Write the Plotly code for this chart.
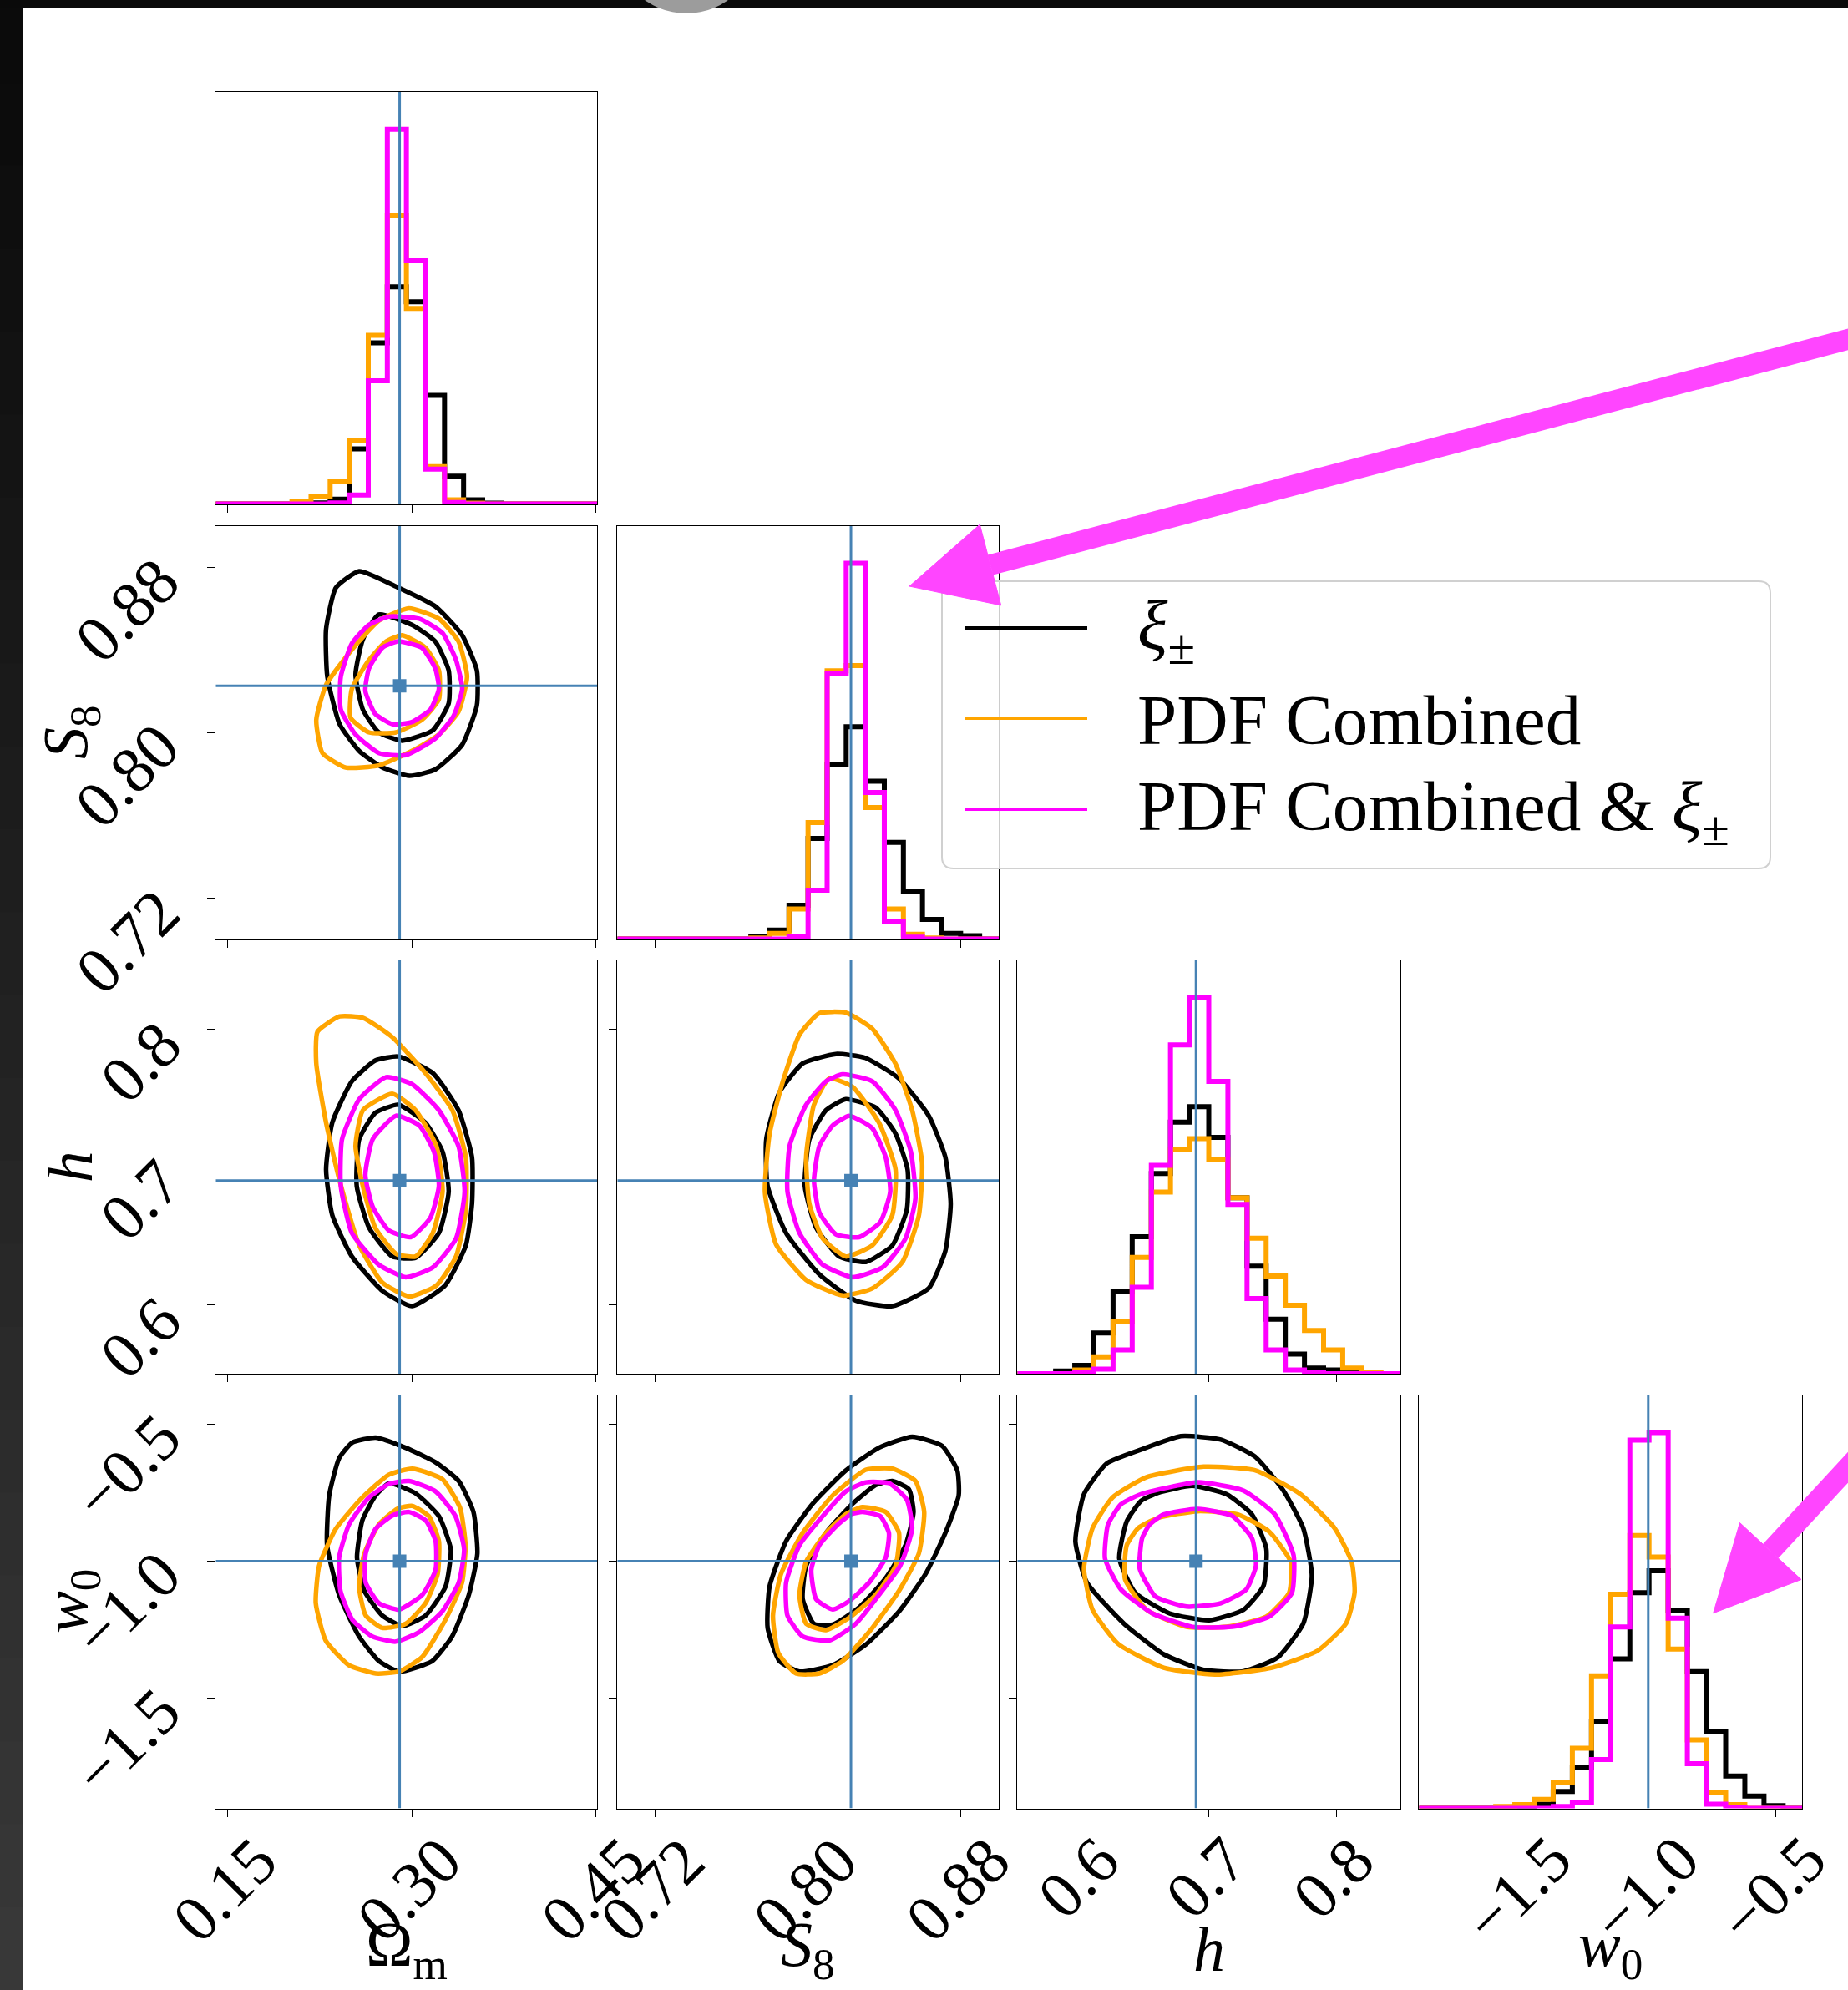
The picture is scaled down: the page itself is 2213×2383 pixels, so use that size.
import numpy as np
import plotly.graph_objects as go

W, H = 2213, 2383
FONT = "Liberation Serif"

# ---------------------------------------------------------------- data
param_ranges = [[0.140, 0.451], [0.700, 0.900], [0.550, 0.850], [-1.900, -0.395]]
truths = [0.290, 0.8225, 0.690, -1.000]
n_bins = 20
tick_vals = [[0.15, 0.30, 0.45], [0.72, 0.80, 0.88], [0.6, 0.7, 0.8], [-1.5, -1.0, -0.5]]
tick_text = [["0.15", "0.30", "0.45"], ["0.72", "0.80", "0.88"],
             ["0.6", "0.7", "0.8"], ["\u22121.5", "\u22121.0", "\u22120.5"]]
axis_titles = ["\u03a9<sub>m</sub>", "<i>S</i><sub>8</sub>", "<i>h</i>", "<i>w</i><sub>0</sub>"]

series_keys = ["xi", "pdf", "both"]
series_names = ["<i>\u03be</i><sub>\u00b1</sub>", "PDF Combined",
                "PDF Combined &amp; <i>\u03be</i><sub>\u00b1</sub>"]
series_colors = ["#000000", "#ffa500", "#ff00ff"]
truth_color = "#4682b4"

# 1D histogram heights (20 bins over each parameter range)
hist_Om_xi = [0, 0, 0, 0, 0, 0.3, 1.3, 14.7, 43, 58, 54, 29, 7.4, 1.1, 0.2, 0, 0, 0, 0, 0]
hist_Om_pdf = [0, 0, 0, 0, 0.7, 2.0, 5.9, 17, 45, 77, 52, 10, 1.1, 0.2, 0, 0, 0, 0, 0, 0]
hist_Om_both = [0, 0, 0, 0, 0, 0, 0.3, 2.4, 32.9, 100, 65, 9.3, 0.4, 0, 0, 0, 0, 0, 0, 0]

hist_S8_xi = [0, 0, 0, 0, 0, 0, 0, 0.6, 2.4, 9, 26.8, 46.5, 56.5, 42, 25.7, 12.6, 5.2, 1.5, 0.9, 0]
hist_S8_pdf = [0, 0, 0, 0, 0, 0, 0, 0.3, 1.5, 8, 31, 71.4, 72.8, 35, 8, 1.3, 0.3, 0, 0, 0]
hist_S8_both = [0, 0, 0, 0, 0, 0, 0, 0, 0, 0.8, 13, 70.6, 100, 39, 4.8, 0.5, 0, 0, 0, 0]

hist_h_xi = [0, 0, 0.7, 2.2, 10.8, 21.9, 36.4, 53.2, 66.9, 71, 62.8, 46.8, 28.6, 14.5, 5.2, 1.5, 1.0, 0.3, 0, 0]
hist_h_pdf = [0, 0, 0, 1.0, 4.5, 13.8, 30.9, 48.3, 59.5, 62.5, 57, 46.8, 36, 26, 18.2, 11.5, 6.3, 1.5, 0.3, 0]
hist_h_both = [0, 0, 0, 0.4, 1.2, 6.3, 23, 55.4, 87.4, 100, 77.7, 45, 20, 6.3, 1.0, 0.3, 0, 0, 0, 0]

hist_w0_xi = [0, 0, 0, 0, 0, 0, 1.1, 4.5, 11, 23, 39.8, 57.4, 63.2, 52.8, 36.4, 20.4, 8.6, 3.3, 0.7, 0]
hist_w0_pdf = [0, 0, 0, 0, 0.5, 1.0, 2.4, 7, 16, 35.3, 57, 72.6, 66.9, 42.4, 18.2, 4.1, 1.0, 0, 0, 0]
hist_w0_both = [0, 0, 0, 0, 0, 0, 0, 0.5, 1.5, 13, 48.3, 98, 100, 50.6, 11.9, 1.1, 0.3, 0, 0, 0]

hists = [[hist_Om_xi, hist_Om_pdf, hist_Om_both],
         [hist_S8_xi, hist_S8_pdf, hist_S8_both],
         [hist_h_xi, hist_h_pdf, hist_h_both],
         [hist_w0_xi, hist_w0_pdf, hist_w0_both]]

# 2D contours (outer, inner), (x, y) in data units
ctr_S8_Om = {
    "xi": [[(0.257, 0.878), (0.289, 0.870), (0.319, 0.861), (0.341, 0.847), (0.353, 0.830), (0.353, 0.813),
            (0.341, 0.794), (0.319, 0.782), (0.298, 0.779), (0.276, 0.783), (0.257, 0.791), (0.241, 0.804),
            (0.231, 0.827), (0.230, 0.850), (0.238, 0.870)],
           [(0.273, 0.857), (0.300, 0.852), (0.319, 0.844), (0.330, 0.830), (0.330, 0.814), (0.317, 0.801),
            (0.292, 0.796), (0.273, 0.800), (0.260, 0.811), (0.254, 0.828), (0.260, 0.845)]],
    "pdf": [[(0.2975, 0.860), (0.322, 0.855), (0.338, 0.844), (0.345, 0.827), (0.338, 0.810), (0.322, 0.799),
             (0.300, 0.791), (0.273, 0.784), (0.246, 0.783), (0.227, 0.790), (0.222, 0.806), (0.230, 0.823),
             (0.251, 0.840), (0.273, 0.854)],
            [(0.292, 0.847), (0.311, 0.841), (0.322, 0.830), (0.322, 0.816), (0.308, 0.806), (0.287, 0.800),
             (0.265, 0.800), (0.250, 0.807), (0.251, 0.821), (0.265, 0.835), (0.279, 0.844)]],
    "both": [[(0.281, 0.856), (0.306, 0.855), (0.325, 0.848), (0.336, 0.835), (0.341, 0.821), (0.334, 0.808),
              (0.319, 0.797), (0.295, 0.789), (0.273, 0.790), (0.254, 0.799), (0.242, 0.811), (0.242, 0.827),
              (0.251, 0.843), (0.265, 0.852)],
             [(0.289, 0.844), (0.308, 0.841), (0.319, 0.831), (0.322, 0.821), (0.315, 0.811), (0.300, 0.805),
              (0.284, 0.804), (0.270, 0.809), (0.262, 0.820), (0.265, 0.831), (0.276, 0.841)]],
}
ctr_h_Om = {
    "xi": [[(0.289, 0.780), (0.317, 0.768), (0.338, 0.741), (0.349, 0.707), (0.349, 0.673), (0.344, 0.643),
            (0.327, 0.614), (0.300, 0.599), (0.276, 0.610), (0.251, 0.635), (0.235, 0.665), (0.230, 0.698),
            (0.235, 0.732), (0.251, 0.762), (0.270, 0.777)],
           [(0.289, 0.745), (0.311, 0.732), (0.325, 0.711), (0.330, 0.682), (0.322, 0.652), (0.303, 0.634),
            (0.284, 0.635), (0.265, 0.656), (0.255, 0.686), (0.257, 0.720), (0.270, 0.739)]],
    "pdf": [[(0.241, 0.809), (0.260, 0.808), (0.284, 0.794), (0.311, 0.768), (0.333, 0.741), (0.344, 0.707),
             (0.344, 0.669), (0.336, 0.635), (0.320, 0.614), (0.298, 0.606), (0.276, 0.616), (0.257, 0.643),
             (0.241, 0.690), (0.230, 0.732), (0.222, 0.775), (0.223, 0.798)],
            [(0.260, 0.741), (0.284, 0.753), (0.303, 0.741), (0.320, 0.715), (0.325, 0.682), (0.317, 0.652),
             (0.303, 0.635), (0.287, 0.637), (0.270, 0.656), (0.260, 0.686), (0.254, 0.715)]],
    "both": [[(0.279, 0.765), (0.300, 0.760), (0.322, 0.741), (0.338, 0.715), (0.343, 0.682), (0.336, 0.648),
              (0.317, 0.627), (0.295, 0.620), (0.273, 0.629), (0.251, 0.652), (0.242, 0.686), (0.243, 0.720),
              (0.257, 0.749)],
             [(0.287, 0.737), (0.306, 0.730), (0.318, 0.711), (0.322, 0.686), (0.315, 0.663), (0.299, 0.649),
              (0.281, 0.654), (0.268, 0.671), (0.262, 0.694), (0.268, 0.720)]],
}
ctr_h_S8 = {
    "xi": [[(0.8146, 0.7818), (0.830, 0.779), (0.8477, 0.764), (0.8633, 0.737), (0.872, 0.707), (0.8748, 0.673),
            (0.872, 0.639), (0.8633, 0.612), (0.8442, 0.599), (0.825, 0.603), (0.8059, 0.622), (0.7885, 0.652),
            (0.7788, 0.686), (0.7781, 0.720), (0.785, 0.754), (0.7972, 0.775)],
           [(0.8198, 0.749), (0.8355, 0.743), (0.8459, 0.724), (0.8522, 0.698), (0.8518, 0.669), (0.8442, 0.643),
            (0.8303, 0.631), (0.8163, 0.635), (0.8042, 0.656), (0.7983, 0.686), (0.8007, 0.720), (0.8094, 0.741)]],
    "pdf": [[(0.8059, 0.8114), (0.8198, 0.8118), (0.8337, 0.800), (0.8459, 0.7746), (0.8546, 0.741),
             (0.8598, 0.7027), (0.8581, 0.6646), (0.8494, 0.6308), (0.8337, 0.6118), (0.8181, 0.6067),
             (0.799, 0.618), (0.7833, 0.6435), (0.7774, 0.6815), (0.7798, 0.7238), (0.7868, 0.762),
             (0.7955, 0.7958)],
            [(0.8111, 0.764), (0.8233, 0.758), (0.8372, 0.732), (0.8459, 0.698), (0.8442, 0.665), (0.8337, 0.643),
             (0.8198, 0.635), (0.8077, 0.648), (0.8007, 0.673), (0.799, 0.707), (0.8031, 0.745)]],
    "both": [[(0.8181, 0.767), (0.8337, 0.762), (0.8459, 0.741), (0.8539, 0.711), (0.8563, 0.677), (0.8511, 0.648),
              (0.839, 0.627), (0.8233, 0.620), (0.8077, 0.629), (0.7955, 0.652), (0.7892, 0.682), (0.7903, 0.715),
              (0.799, 0.745), (0.8094, 0.762)],
             [(0.8216, 0.737), (0.8337, 0.728), (0.8407, 0.707), (0.8431, 0.682), (0.8379, 0.660), (0.8268, 0.649),
              (0.8146, 0.651), (0.8059, 0.667), (0.8031, 0.690), (0.8059, 0.715), (0.8129, 0.730)]],
}
ctr_w0_Om = {
    "xi": [[(0.2704, -0.550), (0.2948, -0.587), (0.3193, -0.640), (0.3382, -0.708), (0.3502, -0.821),
            (0.3534, -0.972), (0.3464, -1.123), (0.3328, -1.274), (0.3165, -1.364), (0.2894, -1.402),
            (0.2731, -1.364), (0.2569, -1.274), (0.2406, -1.123), (0.2308, -0.942), (0.2325, -0.761),
            (0.2406, -0.625), (0.2514, -0.568)],
           [(0.2813, -0.716), (0.303, -0.753), (0.322, -0.836), (0.3317, -0.957), (0.3274, -1.093),
            (0.3111, -1.198), (0.2921, -1.236), (0.2759, -1.198), (0.2612, -1.108), (0.2552, -0.987),
            (0.2596, -0.851), (0.2704, -0.761)]],
    "pdf": [[(0.3003, -0.663), (0.3247, -0.701), (0.3393, -0.806), (0.3437, -0.942), (0.3409, -1.078),
             (0.3274, -1.213), (0.3084, -1.349), (0.2894, -1.402), (0.2704, -1.409), (0.2487, -1.379),
             (0.2297, -1.289), (0.2216, -1.153), (0.2243, -1.017), (0.2379, -0.882), (0.2596, -0.768),
             (0.2813, -0.685)],
            [(0.3003, -0.799), (0.3138, -0.836), (0.322, -0.927), (0.321, -1.047), (0.3111, -1.153),
             (0.2948, -1.228), (0.2759, -1.243), (0.2623, -1.198), (0.2569, -1.093), (0.2612, -0.972),
             (0.2731, -0.866), (0.2883, -0.809)]],
    "both": [[(0.2976, -0.708), (0.3193, -0.746), (0.3355, -0.836), (0.3426, -0.957), (0.3382, -1.078),
              (0.3247, -1.183), (0.3057, -1.259), (0.2867, -1.293), (0.2677, -1.274), (0.2514, -1.213),
              (0.2417, -1.108), (0.2406, -0.987), (0.2487, -0.866), (0.265, -0.768), (0.2813, -0.719)],
             [(0.2976, -0.821), (0.3111, -0.851), (0.3193, -0.927), (0.3193, -1.032), (0.3084, -1.123),
              (0.2894, -1.176), (0.2731, -1.153), (0.2623, -1.078), (0.2623, -0.972), (0.2704, -0.882),
              (0.284, -0.834)]],
}
ctr_w0_S8 = {
    "xi": [[(0.8546, -0.547), (0.8703, -0.580), (0.8783, -0.670), (0.879, -0.761), (0.872, -0.897),
            (0.8616, -1.047), (0.8477, -1.183), (0.8303, -1.304), (0.8129, -1.379), (0.7955, -1.402),
            (0.785, -1.364), (0.7788, -1.243), (0.7798, -1.093), (0.7885, -0.927), (0.8024, -0.791),
            (0.8198, -0.670), (0.8372, -0.587)],
           [(0.8442, -0.708), (0.8529, -0.738), (0.8553, -0.821), (0.8511, -0.942), (0.8407, -1.062),
            (0.8268, -1.168), (0.8129, -1.231), (0.8031, -1.228), (0.7972, -1.138), (0.799, -1.017),
            (0.8094, -0.897), (0.8233, -0.791), (0.8355, -0.723)]],
    "pdf": [[(0.8303, -0.667), (0.8442, -0.663), (0.8563, -0.708), (0.8609, -0.821), (0.8581, -0.972),
             (0.8477, -1.108), (0.8337, -1.243), (0.8181, -1.364), (0.8059, -1.409), (0.7937, -1.409),
             (0.7844, -1.334), (0.7816, -1.198), (0.7858, -1.047), (0.7972, -0.897), (0.8129, -0.761)],
            [(0.8285, -0.803), (0.8407, -0.821), (0.8477, -0.897), (0.8459, -1.017), (0.8355, -1.123),
             (0.8216, -1.206), (0.8094, -1.251), (0.799, -1.228), (0.7955, -1.123), (0.799, -1.002),
             (0.8094, -0.897), (0.8198, -0.829)]],
    "both": [[(0.8303, -0.713), (0.8424, -0.716), (0.8518, -0.776), (0.8546, -0.882), (0.8483, -1.017),
              (0.8372, -1.123), (0.825, -1.228), (0.8111, -1.289), (0.7972, -1.274), (0.7892, -1.198),
              (0.7885, -1.078), (0.7955, -0.942), (0.8077, -0.836), (0.8198, -0.746)],
             [(0.8285, -0.821), (0.8379, -0.836), (0.8424, -0.897), (0.8407, -0.987), (0.832, -1.078),
              (0.8216, -1.145), (0.8129, -1.176), (0.8042, -1.138), (0.8017, -1.032), (0.8059, -0.942),
              (0.8157, -0.866), (0.8226, -0.829)]],
}
ctr_w0_h = {
    "xi": [[(0.6469, -0.594), (0.6781, -0.545), (0.7094, -0.557), (0.7362, -0.619), (0.7585, -0.743),
            (0.7741, -0.880), (0.7808, -1.053), (0.7741, -1.227), (0.754, -1.351), (0.7272, -1.401),
            (0.696, -1.396), (0.6647, -1.339), (0.6335, -1.227), (0.6045, -1.078), (0.5955, -0.929),
            (0.6022, -0.756), (0.6201, -0.644)],
           [(0.6603, -0.751), (0.687, -0.726), (0.7138, -0.756), (0.7339, -0.830), (0.7451, -0.954),
            (0.7429, -1.090), (0.7272, -1.177), (0.7004, -1.215), (0.6692, -1.190), (0.6424, -1.115),
            (0.6299, -0.991), (0.6357, -0.855), (0.6469, -0.781)]],
    "pdf": [[(0.6513, -0.694), (0.696, -0.656), (0.7362, -0.669), (0.7719, -0.756), (0.7987, -0.880),
             (0.8121, -1.004), (0.8143, -1.115), (0.8076, -1.227), (0.7853, -1.326), (0.7495, -1.388),
             (0.7049, -1.413), (0.6647, -1.388), (0.629, -1.301), (0.6089, -1.177), (0.6022, -1.028),
             (0.6089, -0.880), (0.6246, -0.768)],
            [(0.6603, -0.842), (0.6915, -0.818), (0.7228, -0.830), (0.7473, -0.892), (0.7643, -1.004),
             (0.763, -1.115), (0.7451, -1.202), (0.7138, -1.239), (0.6826, -1.239), (0.6513, -1.177),
             (0.6344, -1.066), (0.6357, -0.942), (0.6446, -0.880)]],
    "both": [[(0.6469, -0.756), (0.6915, -0.713), (0.7272, -0.743), (0.7518, -0.830), (0.7665, -0.979),
              (0.7652, -1.115), (0.7473, -1.202), (0.7183, -1.239), (0.6871, -1.239), (0.6558, -1.190),
              (0.6312, -1.103), (0.6187, -0.991), (0.621, -0.867), (0.6312, -0.793)],
             [(0.6647, -0.830), (0.6915, -0.810), (0.7183, -0.835), (0.7339, -0.917), (0.737, -1.016),
              (0.7294, -1.103), (0.7094, -1.153), (0.6826, -1.165), (0.6581, -1.128), (0.6459, -1.028),
              (0.6477, -0.917), (0.6536, -0.867)]],
}
contours = {(1, 0): ctr_S8_Om, (2, 0): ctr_h_Om, (2, 1): ctr_h_S8,
            (3, 0): ctr_w0_Om, (3, 1): ctr_w0_S8, (3, 2): ctr_w0_h}

# ---------------------------------------------------------------- layout geometry (pixels)
col_px = [(258.3, 715.0), (739.3, 1196.0), (1218.3, 1676.7), (1699.3, 2158.3)]
row_px = [(110.0, 603.5), (629.5, 1124.5), (1149.5, 1645.0), (1670.5, 2165.5)]
HIST_TOP = 110.0
HIST_LW = 6
CTR_LW = 5.5


def px(X):
    return X / W


def py(Y):
    return 1 - Y / H


def P(X, Y):
    return f"{px(X):.6f},{py(Y):.6f}"


fig = go.Figure()
layout = dict(width=W, height=H, autosize=False,
              margin=dict(l=0, r=0, t=0, b=0, pad=0),
              paper_bgcolor="white", plot_bgcolor="white",
              showlegend=False, template="none",
              font=dict(family=FONT, color="black"))

axis_common = dict(showgrid=False, zeroline=False, showline=True, mirror=True,
                   linecolor="black", linewidth=1.4, ticks="outside", ticklen=9,
                   tickwidth=1.4, tickcolor="black", showticklabels=False,
                   automargin=False, fixedrange=True)

panel_id = {}
k = 0
for i in range(4):
    for j in range(i + 1):
        k += 1
        panel_id[(i, j)] = k
        sx = "" if k == 1 else str(k)
        xa = dict(axis_common, domain=[px(col_px[j][0]), px(col_px[j][1])],
                  range=param_ranges[j], tickvals=tick_vals[j], anchor="y" + sx)
        if i == j:
            ya = dict(axis_common, domain=[py(row_px[i][1]), py(row_px[i][0])],
                      range=[0, HIST_TOP], ticks="", tickvals=[], anchor="x" + sx)
        else:
            ya = dict(axis_common, domain=[py(row_px[i][1]), py(row_px[i][0])],
                      range=param_ranges[i], tickvals=tick_vals[i], anchor="x" + sx)
        layout["xaxis" + sx] = xa
        layout["yaxis" + sx] = ya


def sfx(k):
    return "" if k == 1 else str(k)


for (i, j), k in panel_id.items():
    s = sfx(k)
    if i == j:
        lo, hi = param_ranges[j]
        edges = np.linspace(lo, hi, n_bins + 1)
        for si in range(3):
            counts = list(hists[j][si])
            xs = [edges[0]] + list(edges[:-1]) + [edges[-1], edges[-1]]
            ys = [0] + counts + [counts[-1], 0]
            fig.add_trace(go.Scatter(x=xs, y=ys, mode="lines",
                                     line=dict(color=series_colors[si], width=HIST_LW, shape="hv"),
                                     xaxis="x" + s, yaxis="y" + s, hoverinfo="skip"))
        fig.add_trace(go.Scatter(x=[truths[j], truths[j]], y=[0, HIST_TOP], mode="lines",
                                 line=dict(color=truth_color, width=3),
                                 xaxis="x" + s, yaxis="y" + s, hoverinfo="skip"))
    else:
        for si, key in enumerate(series_keys):
            for c in contours[(i, j)][key]:
                xs = [p[0] for p in c] + [c[0][0]]
                ys = [p[1] for p in c] + [c[0][1]]
                fig.add_trace(go.Scatter(x=xs, y=ys, mode="lines",
                                         line=dict(color=series_colors[si], width=CTR_LW,
                                                   shape="spline", smoothing=0.5),
                                         xaxis="x" + s, yaxis="y" + s, hoverinfo="skip"))
        fig.add_trace(go.Scatter(x=[truths[j], truths[j]], y=param_ranges[i], mode="lines",
                                 line=dict(color=truth_color, width=3),
                                 xaxis="x" + s, yaxis="y" + s, hoverinfo="skip"))
        fig.add_trace(go.Scatter(x=param_ranges[j], y=[truths[i], truths[i]], mode="lines",
                                 line=dict(color=truth_color, width=3),
                                 xaxis="x" + s, yaxis="y" + s, hoverinfo="skip"))
        fig.add_trace(go.Scatter(x=[truths[j]], y=[truths[i]], mode="markers",
                                 marker=dict(color=truth_color, size=16, symbol="square"),
                                 xaxis="x" + s, yaxis="y" + s, hoverinfo="skip"))

# ---------------------------------------------------------------- text
ann = []
TICK_FS = 78
for j in range(4):
    k = panel_id[(3, j)]
    for t, txt in zip(tick_vals[j], tick_text[j]):
        yc = 2262 if len(txt) >= 4 else 2248
        ann.append(dict(x=t, xref="x" + sfx(k), y=py(yc), yref="paper", text=txt,
                        textangle=-45, showarrow=False, xanchor="center", yanchor="middle",
                        xshift=-4, font=dict(size=TICK_FS, family=FONT, color="black")))
for i in range(1, 4):
    k = panel_id[(i, 0)]
    for t, txt in zip(tick_vals[i], tick_text[i]):
        four = len(txt) >= 4
        ann.append(dict(x=px(152 if four else 168), xref="paper", y=t, yref="y" + sfx(k),
                        yshift=-(52 if four else 39), text=txt, textangle=-45, showarrow=False,
                        xanchor="center", yanchor="middle",
                        font=dict(size=TICK_FS, family=FONT, color="black")))

# axis titles
for j in range(4):
    xc = (col_px[j][0] + col_px[j][1]) / 2
    ann.append(dict(x=px(xc), y=py(2334), xref="paper", yref="paper", text=axis_titles[j],
                    showarrow=False, xanchor="center", yanchor="middle",
                    font=dict(size=76, family=FONT, color="black")))
for i in range(1, 4):
    yc = (row_px[i][0] + row_px[i][1]) / 2
    ann.append(dict(x=px(84), y=py(yc), xref="paper", yref="paper", text=axis_titles[i],
                    textangle=-90, showarrow=False, xanchor="center", yanchor="middle",
                    font=dict(size=76, family=FONT, color="black")))

# legend (drawn manually)
shapes = []
LX0, LY0, LX1, LY1, R = 1128, 696, 2120, 1040, 14
leg_path = (f"M {P(LX0 + R, LY0)} L {P(LX1 - R, LY0)} Q {P(LX1, LY0)} {P(LX1, LY0 + R)} "
            f"L {P(LX1, LY1 - R)} Q {P(LX1, LY1)} {P(LX1 - R, LY1)} "
            f"L {P(LX0 + R, LY1)} Q {P(LX0, LY1)} {P(LX0, LY1 - R)} "
            f"L {P(LX0, LY0 + R)} Q {P(LX0, LY0)} {P(LX0 + R, LY0)} Z")
shapes.append(dict(type="path", path=leg_path, xref="paper", yref="paper",
                   fillcolor="rgba(255,255,255,0.8)", line=dict(color="#d0d0d0", width=2),
                   layer="above"))
leg_rows = [752, 860, 969]
for si in range(3):
    shapes.append(dict(type="line", xref="paper", yref="paper",
                       x0=px(1155), x1=px(1302), y0=py(leg_rows[si]), y1=py(leg_rows[si]),
                       line=dict(color=series_colors[si], width=4), layer="above"))
    ann.append(dict(x=px(1360), y=py(leg_rows[si] + 2), xref="paper", yref="paper",
                    text=series_names[si], showarrow=False, xanchor="left", yanchor="middle",
                    font=dict(size=85, family=FONT, color="black")))

# page decorations: dark strip on the left, black bar on top, grey knob
bands = 24
for b in range(bands):
    g = int(11 + (56 - 11) * b / (bands - 1))
    shapes.append(dict(type="rect", xref="paper", yref="paper", x0=0, x1=px(28),
                       y0=py(H * (b + 1) / bands + 3), y1=py(H * b / bands),
                       fillcolor=f"rgb({g},{g},{g})", line=dict(width=0), layer="above"))
shapes.append(dict(type="rect", xref="paper", yref="paper", x0=0, x1=1, y0=py(9), y1=1,
                   fillcolor="#0a0a0a", line=dict(width=0), layer="above"))
shapes.append(dict(type="circle", xref="paper", yref="paper", x0=px(822 - 86), x1=px(822 + 86),
                   y0=py(16), y1=py(-156), fillcolor="#9c9c9c", line=dict(width=0), layer="above"))

# pink arrows
PINK = "#ff45ff"
shapes.append(dict(type="line", xref="paper", yref="paper", x0=px(1186), y0=py(676.5),
                   x1=px(2260), y1=py(394.0), line=dict(color=PINK, width=25), layer="above"))
shapes.append(dict(type="path", xref="paper", yref="paper",
                   path=f"M {P(1089, 702)} L {P(1173.3, 628.1)} L {P(1198.7, 724.9)} Z",
                   fillcolor=PINK, line=dict(color=PINK, width=1), layer="above"))
shapes.append(dict(type="line", xref="paper", yref="paper", x0=px(2120.3), y0=py(1857.5),
                   x1=px(2260), y1=py(1706.4), line=dict(color=PINK, width=25), layer="above"))
shapes.append(dict(type="path", xref="paper", yref="paper",
                   path=f"M {P(2051.7, 1931.7)} L {P(2083.5, 1823.5)} L {P(2157.0, 1891.5)} Z",
                   fillcolor=PINK, line=dict(color=PINK, width=1), layer="above"))

layout["annotations"] = ann
layout["shapes"] = shapes
fig.update_layout(**layout)
fig.write_html("out.html", config={"displayModeBar": False},
               post_script="document.body.style.margin='0';document.body.style.overflow='hidden';")
